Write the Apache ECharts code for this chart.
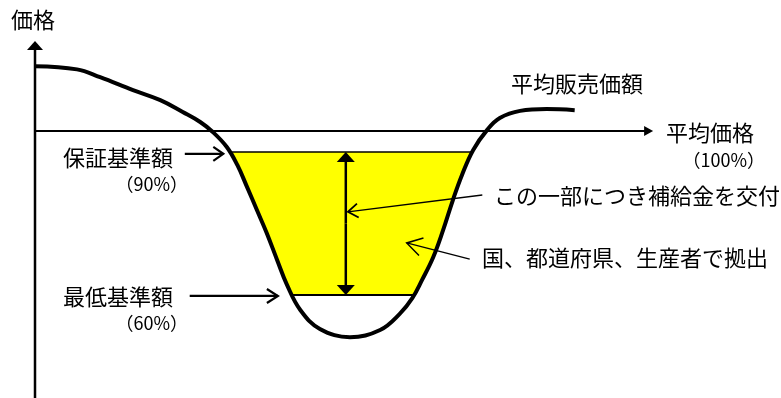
<!DOCTYPE html>
<html>
<head>
<meta charset="utf-8">
<script src="https://cdn.jsdelivr.net/npm/echarts@6/dist/echarts.min.js"></script>
<style>
  html, body { margin: 0; background: #fff; }
  #chart { width: 781px; height: 398px; }
</style>
</head>
<body>
<div id="chart"></div>
<script>
// average selling price curve (x: 0-100, y: 0-100)
const curveX = [0, 6.0, 9.3, 14.0, 17.9, 21.1, 23.6, 25.4, 27.4, 28.9, 30.3, 31.7, 33.1, 34.6, 36.0, 37.9, 40.7,
  45.0, 49.3, 52.1, 53.9, 55.3, 56.9, 58.3, 59.7, 61.0, 62.6, 64.6, 66.4, 69.3, 73.1, 77.1];
const curveY = [92.7, 91.8, 89.6, 86.0, 83.2, 79.9, 77.1, 74.3, 70.1, 65.1, 58.9, 52.5, 46.1, 38.5, 31.6, 24.6, 19.3,
  17.0, 19.0, 23.5, 27.9, 33.0, 39.4, 46.9, 55.3, 62.3, 69.3, 74.9, 78.2, 80.2, 80.7, 80.4];

// levels: average price (100%), guarantee (90%), minimum (60%)
const levelNames = ['平均価格', '保証基準額', '最低基準額'];
const levelShares = ['（100%）', '（90%）', '（60%）'];
const levelY = [74.6, 68.7, 28.8];

const curveName = '平均販売価額';
const axisName = '価格';
const notes = ['この一部につき補給金を交付', '国、都道府県、生産者で拠出'];

// arrows: [fromX, fromY, toX, toY]
const axisArrow = [0, 0, 0, 99.7];
const avgArrow = [0, 74.6, 88.3, 74.6];
const gapArrowX = 44.4;
const levelArrows = [[21.4, 68.2, 26.9, 68.2], [22.1, 28.5, 34.7, 28.5]];
const noteArrows = [[63.9, 56.7, 44.7, 52.0], [62.1, 38.8, 53.1, 43.3]];

const curve = curveX.map((x, i) => [x, curveY[i]]);

// where the curve crosses a level: [left, right] as {x, i}
function crossings(level) {
  const out = [];
  for (let i = 0; i < curve.length - 1; i++) {
    const a = curve[i], b = curve[i + 1];
    if ((a[1] - level) * (b[1] - level) <= 0 && a[1] !== b[1]) {
      const t = (level - a[1]) / (b[1] - a[1]);
      out.push({ x: a[0] + t * (b[0] - a[0]), i: i });
    }
  }
  return out;
}

const gCross = crossings(levelY[1]);
const mCross = crossings(levelY[2]);
const fillPts = [[gCross[0].x, levelY[1]]];
for (let i = gCross[0].i + 1; i <= mCross[0].i; i++) fillPts.push(curve[i]);
fillPts.push([mCross[0].x, levelY[2]], [mCross[1].x, levelY[2]]);
for (let i = mCross[1].i + 1; i <= gCross[1].i; i++) fillPts.push(curve[i]);
fillPts.push([gCross[1].x, levelY[1]]);

// arrow specs drawn by one custom series
const arrows = [
  { p: axisArrow, w: 2.5, head: 'fill', len: 9, half: 8 },
  { p: avgArrow, w: 2, head: 'fill', len: 9, half: 5 },
  { p: [gapArrowX, (levelY[1] + levelY[2]) / 2, gapArrowX, levelY[1]], w: 2.5, head: 'fill', len: 10, half: 9 },
  { p: [gapArrowX, (levelY[1] + levelY[2]) / 2, gapArrowX, levelY[2]], w: 2.5, head: 'fill', len: 10, half: 9 },
  { p: levelArrows[0], w: 2.2, head: 'open', len: 10, half: 7, hw: 2.2 },
  { p: levelArrows[1], w: 2.2, head: 'open', len: 11, half: 7, hw: 2.2 },
  { p: noteArrows[0], w: 1.3, head: 'open', len: 10, half: 7, hw: 1.8 },
  { p: noteArrows[1], w: 1.3, head: 'open', len: 15, half: 9, hw: 1.5 }
];

function renderArrow(params, api) {
  const a = arrows[params.dataIndex];
  const s = api.coord([a.p[0], a.p[1]]);
  const e = api.coord([a.p[2], a.p[3]]);
  const ang = Math.atan2(e[1] - s[1], e[0] - s[0]);
  const c = Math.cos(ang), n = Math.sin(ang);
  const bx = e[0] - c * a.len, by = e[1] - n * a.len;
  const l = [bx - n * a.half, by + c * a.half];
  const r = [bx + n * a.half, by - c * a.half];
  const children = [];
  const lineEnd = a.head === 'fill' ? [bx + c, by + n] : e;
  children.push({ type: 'line', shape: { x1: s[0], y1: s[1], x2: lineEnd[0], y2: lineEnd[1] },
    style: { stroke: '#000', lineWidth: a.w } });
  if (a.head === 'fill') {
    children.push({ type: 'polygon', shape: { points: [e, l, r] }, style: { fill: '#000' } });
  } else {
    children.push({ type: 'polyline', shape: { points: [l, e, r] },
      style: { stroke: '#000', fill: null, lineWidth: a.hw, lineJoin: 'miter' } });
  }
  return { type: 'group', children: children };
}

const font = '"Noto Sans CJK JP", sans-serif';
function txt(text, x, y, size, align) {
  return { type: 'text', x: x, y: y, silent: true,
    style: { text: text, font: size + 'px ' + font, fill: '#000', align: align || 'left', verticalAlign: 'middle' } };
}

const chart = echarts.init(document.getElementById('chart'));
chart.setOption({
  animation: false,
  grid: { left: 35, right: 46, top: 40, bottom: 0 },
  xAxis: { type: 'value', min: 0, max: 100, show: false },
  yAxis: { type: 'value', min: 0, max: 100, show: false },
  series: [
    {
      type: 'custom',
      z: 1,
      data: [[0, 0]],
      renderItem: (params, api) => ({
        type: 'polygon',
        shape: { points: fillPts.map(p => api.coord(p)) },
        style: { fill: '#ffff00' }
      })
    },
    {
      type: 'line', z: 2, symbol: 'none', silent: true,
      lineStyle: { color: '#000', width: 1.5 },
      data: [[gCross[0].x, levelY[1]], [gCross[1].x, levelY[1]]]
    },
    {
      type: 'line', z: 2, symbol: 'none', silent: true,
      lineStyle: { color: '#000', width: 2 },
      data: [[mCross[0].x, levelY[2]], [mCross[1].x, levelY[2]]]
    },
    {
      name: curveName,
      type: 'line', z: 3, symbol: 'none', smooth: 0.4, silent: true,
      lineStyle: { color: '#000', width: 4 },
      data: curve
    },
    {
      type: 'custom', z: 4, silent: true,
      data: arrows.map((a, i) => [i, 0]),
      renderItem: renderArrow
    }
  ],
  graphic: [
    txt(axisName, 11, 20, 22),
    txt(curveName, 511, 84, 22),
    txt(levelNames[0], 666, 133, 22),
    txt(levelShares[0], 765, 160, 18, 'right'),
    txt(levelNames[1], 63, 158, 22),
    txt(levelShares[1], 188, 184, 18, 'right'),
    txt(levelNames[2], 63, 297, 22),
    txt(levelShares[2], 188, 323, 18, 'right'),
    txt(notes[0], 494, 196, 22),
    txt(notes[1], 482, 258, 22)
  ]
});
</script>
</body>
</html>
